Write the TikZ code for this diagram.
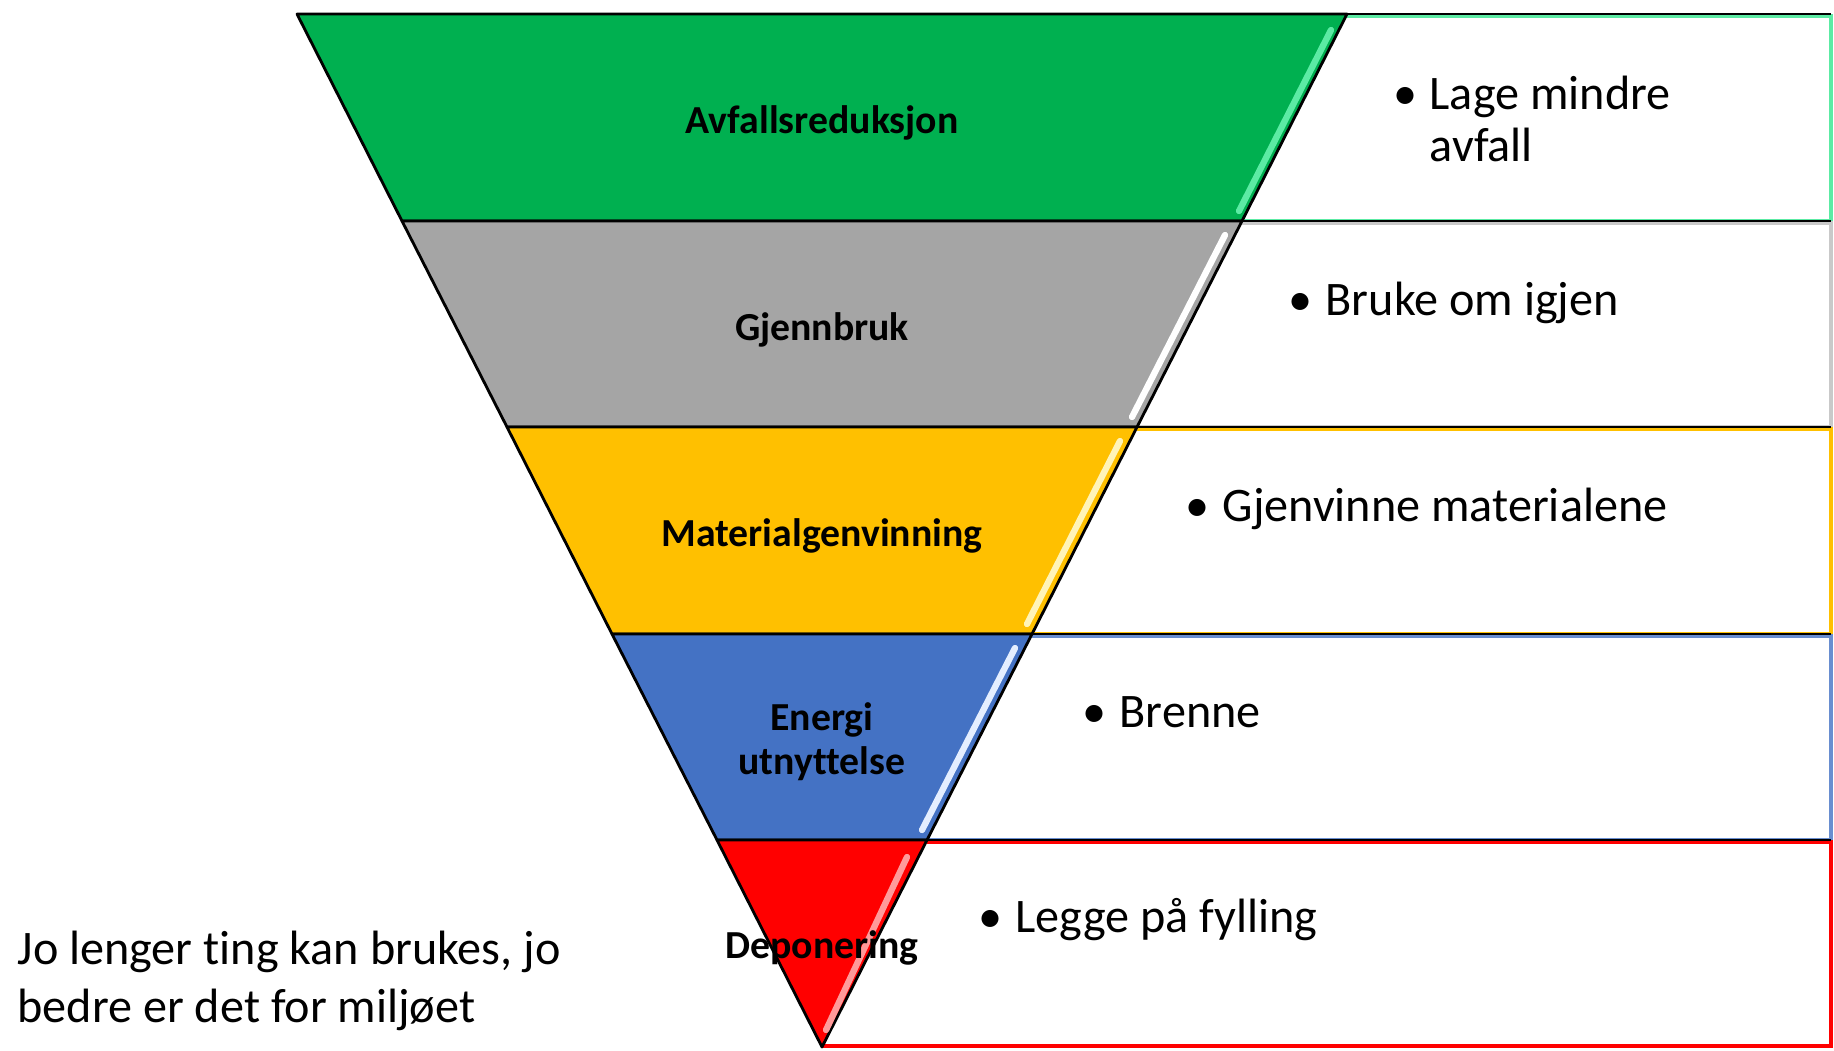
\documentclass[tikz,border=0pt]{standalone}
\usepackage{fontspec}
\setmainfont{Carlito}[Ligatures=NoCommon]
\usepackage{tikz}
\definecolor{trinngronn}{HTML}{00B050}
\definecolor{trinngraa}{HTML}{A5A5A5}
\definecolor{trinngul}{HTML}{FFC000}
\definecolor{trinnblaa}{HTML}{4472C4}
\definecolor{trinnrod}{HTML}{FF0000}
\definecolor{glansgronn}{HTML}{5CEBA4}
\definecolor{glansgul}{HTML}{FFF4B8}
\definecolor{glansblaa}{HTML}{E4EEFF}
\definecolor{glansrod}{HTML}{FF9A9A}

\begin{document}
\begin{tikzpicture}[x=0.01cm, y=-0.01cm,
	trinn/.style={draw=black, line width=0.8pt, line join=round},
	skille/.style={draw=black, line width=0.8pt},
	boks/.style={line width=0.9pt},
	glans/.style={line width=1.8pt, line cap=round},
	etikett/.style={font=\fontsize{11.3}{12.5}\selectfont\bfseries, align=center, inner sep=0pt},
	punkt/.style={font=\fontsize{13.7}{15}\selectfont, anchor=base west, inner sep=0pt}]

	\useasboundingbox (0,0) rectangle (1834,1050);

	\draw[boks, draw=glansgronn] (1347,16) -- (1831,16) -- (1831,221) -- (1242,221);
	\draw[boks, draw=trinngraa!60] (1242,223) -- (1831,223) -- (1831,427) -- (1137,427);
	\draw[boks, draw=trinngul] (1137,429) -- (1831,429) -- (1831,634) -- (1032,634);
	\draw[boks, draw=trinnblaa!80] (1032,636) -- (1831,636) -- (1831,840) -- (927,840);
	\draw[boks, draw=trinnrod] (927,842) -- (1831,842) -- (1831,1046) -- (822,1046);

	\draw[trinn, fill=trinngronn] (297,14) -- (1347,14) -- (1242,221) -- (402,221) -- cycle;
	\draw[trinn, fill=trinngraa] (402,221) -- (1242,221) -- (1137,427) -- (507,427) -- cycle;
	\draw[trinn, fill=trinngul] (507,427) -- (1137,427) -- (1032,634) -- (612,634) -- cycle;
	\draw[trinn, fill=trinnblaa] (612,634) -- (1032,634) -- (927,840) -- (717,840) -- cycle;
	\draw[trinn, fill=trinnrod] (717,840) -- (927,840) -- (822,1047) -- cycle;

	\draw[skille] (1347,14) -- (1831,14);
	\draw[skille] (1242,221) -- (1831,221);
	\draw[skille] (1137,427) -- (1831,427);
	\draw[skille] (1032,634) -- (1831,634);
	\draw[skille] (927,840) -- (1831,840);

	\draw[glans, draw=glansgronn] (1331,30) -- (1239,211);
	\draw[glans, draw=white] (1225,235) -- (1132,417);
	\draw[glans, draw=glansgul] (1120,441) -- (1027,624);
	\draw[glans, draw=glansblaa] (1015,648) -- (922,830);
	\draw[glans, draw=glansrod] (907,857) -- (826,1030);

	\node[etikett] (avfall) at (822,123) {Avfallsreduksjon};
	\node[etikett] (gjenbruk) at (822,330) {Gjennbruk};
	\node[etikett] (material) at (822,536) {Materialgenvinning};
	\node[etikett] (energi) at (822,742) {Energi\\utnyttelse};
	\node[etikett] (deponi) at (822,948) {Deponering};

	\node[punkt, anchor=base] (p1) at (1405,109) {\textbullet};
	\node[punkt] (t1) at (1429,109) {Lage mindre};
	\node[punkt] (t1b) at (1429,161) {avfall};
	\node[punkt, anchor=base] (p2) at (1300,315) {\textbullet};
	\node[punkt] (t2) at (1325,315) {Bruke om igjen};
	\node[punkt, anchor=base] (p3) at (1197,521) {\textbullet};
	\node[punkt] (t3) at (1222,521) {Gjenvinne materialene};
	\node[punkt, anchor=base] (p4) at (1094,727) {\textbullet};
	\node[punkt] (t4) at (1119,727) {Brenne};
	\node[punkt, anchor=base] (p5) at (990,932) {\textbullet};
	\node[punkt] (t5) at (1015,932) {Legge på fylling};

	\node[font=\fontsize{13.7}{16.5}\selectfont, align=left, anchor=west, inner sep=0pt] (merknad) at (17,981) {Jo lenger ting kan brukes, jo\\bedre er det for miljøet};
\end{tikzpicture}
\end{document}
